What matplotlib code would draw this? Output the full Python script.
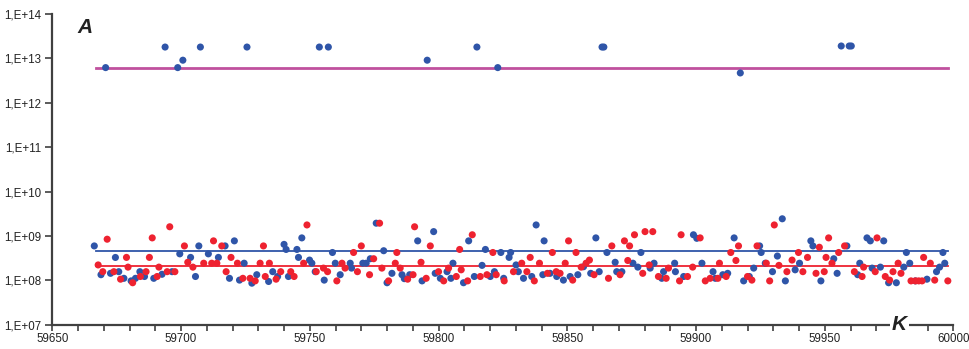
import math
import matplotlib
matplotlib.use("Agg")
import matplotlib.pyplot as plt
from matplotlib.ticker import FixedLocator, MultipleLocator, FuncFormatter

plt.rcParams['font.family'] = ['Liberation Sans', 'DejaVu Sans']

# upper blue group (around 1e13)
blue_top_x = [59670.7, 59693.8, 59698.7, 59700.7, 59707.5, 59725.6, 59753.7, 59757.2,
              59795.6, 59814.9, 59823.0, 59863.5, 59864.2, 59917.2, 59956.4, 59959.5, 59960.3]
blue_top_y = [6.2e12, 1.8e13, 6.2e12, 9.1e12, 1.8e13, 1.8e13, 1.8e13, 1.8e13,
              9.1e12, 1.8e13, 6.2e12, 1.8e13, 1.8e13, 4.7e12, 1.9e13, 1.9e13, 1.9e13]

# lower blue group
blue_x = [59666.3, 59674.5, 59668.9, 59672.6, 59675.8, 59677.8, 59680.6, 59682.3, 59684.0, 59685.8,
          59689.4, 59692.6, 59696.5, 59699.5, 59703.7, 59706.9, 59705.6,
          59710.6, 59714.5, 59717.1, 59720.7, 59718.8, 59722.7, 59724.5, 59727.5, 59729.4, 59734.0,
          59735.6, 59737.5, 59740.0, 59740.8, 59741.7, 59745.0, 59745.6, 59746.9, 59749.9, 59750.8,
          59752.1, 59755.6, 59758.8, 59759.9, 59761.8, 59765.7,
          59766.2, 59770.6, 59771.9, 59773.5, 59775.8, 59778.7, 59781.9, 59780.0, 59785.8, 59786.7,
          59788.8, 59791.9, 59793.6, 59798.1, 59798.7, 59800.7, 59803.3, 59804.8, 59805.6, 59809.7,
          59811.7, 59813.9, 59816.9, 59818.2, 59820.1, 59821.7, 59824.2, 59825.3,
          59827.4, 59828.0, 59830.1, 59831.0, 59833.0, 59836.2, 59837.9, 59840.5, 59841.0, 59843.3,
          59845.9, 59848.5, 59851.1, 59854.1, 59856.3, 59859.1, 59861.1, 59862.4, 59865.4, 59868.6,
          59869.2, 59871.2, 59875.5, 59877.4, 59878.6, 59883.7,
          59882.2, 59887.4, 59886.7, 59891.7, 59892.0, 59895.2, 59899.0, 59900.3, 59902.3, 59906.6,
          59907.5, 59910.4, 59912.3, 59914.8, 59918.5, 59920.7, 59922.4, 59924.7, 59925.3, 59926.9,
          59929.7, 59931.6, 59933.5, 59934.7, 59938.5, 59940.2,
          59944.6, 59945.4, 59948.5, 59953.5, 59954.8, 59958.6, 59962.8, 59963.6, 59966.4, 59967.7,
          59968.4, 59971.6, 59972.9, 59974.8, 59977.8, 59980.7, 59981.7, 59983.0, 59985.2, 59989.7,
          59993.4, 59994.6, 59995.9, 59996.6]
blue_y = [6.0e8, 3.3e8, 1.35e8, 1.45e8, 1.58e8, 1.12e8, 9.8e7, 1.12e8, 1.58e8, 1.23e8,
          1.12e8, 1.38e8, 1.58e8, 3.98e8, 3.31e8, 6.0e8, 1.23e8,
          3.98e8, 3.31e8, 6.0e8, 7.8e8, 1.12e8, 1.02e8, 2.45e8, 8.7e7, 1.35e8, 9.5e7,
          1.58e8, 1.23e8, 6.5e8, 5.0e8, 1.23e8, 5.0e8, 3.31e8, 9.1e8, 2.88e8, 2.45e8,
          1.58e8, 1.02e8, 4.27e8, 2.45e8, 1.35e8, 2.45e8,
          1.9e8, 2.45e8, 2.45e8, 3.09e8, 1.95e9, 4.68e8, 1.45e8, 8.9e7, 1.35e8, 1.1e8,
          1.35e8, 7.8e8, 9.8e7, 1.26e9, 1.45e8, 1.12e8, 1.58e8, 1.12e8, 2.45e8, 8.9e7,
          7.8e8, 1.23e8, 2.19e8, 5.0e8, 1.23e8, 1.58e8, 4.27e8, 1.12e8,
          3.31e8, 4.27e8, 2.24e8, 1.58e8, 1.12e8, 1.23e8, 1.78e9, 1.35e8, 7.8e8, 1.45e8,
          1.23e8, 1.02e8, 1.23e8, 1.35e8, 2.04e8, 1.45e8, 9.1e8, 1.58e8, 4.27e8, 2.57e8,
          1.58e8, 1.58e8, 2.45e8, 2.0e8, 4.27e8, 2.45e8,
          1.9e8, 1.58e8, 1.12e8, 2.45e8, 1.58e8, 1.23e8, 1.07e9, 8.9e8, 2.45e8, 1.58e8,
          1.12e8, 1.35e8, 1.45e8, 9.1e8, 9.8e7, 1.23e8, 1.9e8, 6.0e8, 4.27e8, 2.45e8,
          1.58e8, 3.55e8, 2.45e9, 9.8e7, 1.74e8, 2.45e8,
          7.8e8, 6.0e8, 9.8e7, 3.09e8, 1.45e8, 6.0e8, 1.35e8, 2.45e8, 9.1e8, 7.8e8,
          1.9e8, 2.0e8, 7.8e8, 8.9e7, 8.9e7, 2.0e8, 4.27e8, 2.45e8, 9.8e7, 1.07e8,
          1.58e8, 2.0e8, 4.27e8, 2.45e8]

red_x = [59671.3, 59667.8, 59669.6, 59673.9, 59676.5, 59678.8, 59679.4, 59681.2, 59684.2, 59686.4,
         59687.7, 59688.8, 59690.7, 59691.4, 59694.6, 59695.6, 59697.6, 59701.3, 59702.6, 59704.6,
         59708.8,
         59712.6, 59711.9, 59713.9, 59715.8, 59717.5, 59719.4, 59721.9, 59724.0, 59726.8, 59728.8,
         59730.7, 59732.0, 59732.7, 59734.3, 59736.9, 59738.7, 59742.6, 59743.9, 59747.6, 59748.9,
         59752.5, 59755.3, 59756.9, 59760.5, 59762.5, 59763.7, 59767.0,
         59768.5, 59770.0, 59773.2, 59774.8, 59777.1, 59778.0, 59780.6, 59783.2, 59783.8, 59785.1,
         59788.0, 59790.1, 59790.7, 59793.2, 59795.2, 59796.8, 59800.0, 59802.0, 59803.9, 59806.9,
         59808.8, 59808.2, 59811.3, 59813.1, 59816.2, 59818.8, 59821.1, 59822.4, 59825.5,
         59829.1, 59832.3, 59834.3, 59835.6, 59837.2, 59839.2, 59842.3, 59844.2, 59845.7, 59847.2,
         59849.2, 59850.5, 59852.1, 59853.4, 59855.4, 59857.3, 59858.6, 59860.4, 59866.0, 59867.3,
         59870.5, 59872.2, 59873.5, 59874.2, 59876.1, 59879.3, 59880.2, 59881.8, 59883.2,
         59885.4, 59888.4, 59889.3, 59893.6, 59894.2, 59896.7, 59898.7, 59901.6, 59903.6, 59905.5,
         59908.5, 59909.1, 59911.7, 59913.5, 59915.5, 59916.5, 59920.0, 59921.7, 59923.7, 59927.3,
         59928.6, 59930.4, 59932.2, 59935.3, 59937.3, 59939.8, 59941.5,
         59943.3, 59946.6, 59947.9, 59949.8, 59950.5, 59951.5, 59952.8, 59955.4, 59957.7, 59961.5,
         59964.5, 59965.1, 59969.6, 59970.3, 59973.5, 59975.2, 59976.5, 59978.5, 59979.6, 59983.5,
         59985.2, 59986.5, 59987.8, 59988.4, 59991.0, 59992.7, 59997.8]
red_y = [8.5e8, 2.24e8, 1.58e8, 1.58e8, 1.07e8, 3.31e8, 2.0e8, 8.9e7, 1.23e8, 1.58e8,
         3.31e8, 9.1e8, 1.23e8, 2.0e8, 1.58e8, 1.62e9, 1.58e8, 6.0e8, 2.57e8, 2.0e8,
         2.45e8,
         7.8e8, 2.45e8, 2.45e8, 6.0e8, 1.58e8, 3.31e8, 2.45e8, 1.12e8, 1.12e8, 9.8e7,
         2.45e8, 6.0e8, 1.23e8, 2.45e8, 1.07e8, 1.58e8, 1.58e8, 1.23e8, 2.45e8, 1.78e9,
         1.58e8, 1.9e8, 1.58e8, 9.8e7, 2.45e8, 1.9e8, 4.27e8,
         1.58e8, 6.0e8, 1.35e8, 3.09e8, 1.95e9, 1.9e8, 9.8e7, 2.45e8, 4.27e8, 1.9e8,
         1.07e8, 1.35e8, 1.62e9, 2.57e8, 1.12e8, 6.0e8, 1.58e8, 9.8e7, 1.9e8, 1.23e8,
         1.74e8, 5.0e8, 9.8e7, 1.07e9, 1.23e8, 1.35e8, 4.27e8, 1.35e8, 9.8e7,
         1.58e8, 2.45e8, 1.58e8, 3.31e8, 9.8e7, 2.45e8, 1.45e8, 4.27e8, 1.58e8, 1.45e8,
         2.45e8, 7.8e8, 1.02e8, 4.27e8, 2.0e8, 2.45e8, 2.88e8, 1.35e8, 1.12e8, 6.0e8,
         1.35e8, 7.8e8, 2.82e8, 6.0e8, 1.07e9, 1.45e8, 1.26e9, 2.24e8, 1.26e9,
         1.23e8, 1.12e8, 1.9e8, 9.8e7, 1.07e9, 1.23e8, 2.0e8, 9.1e8, 9.8e7, 1.12e8,
         1.12e8, 2.45e8, 1.23e8, 4.27e8, 2.82e8, 6.0e8, 1.23e8, 1.02e8, 6.0e8, 2.45e8,
         9.8e7, 1.78e9, 2.19e8, 1.58e8, 2.88e8, 4.27e8, 1.58e8,
         3.31e8, 1.45e8, 5.6e8, 1.58e8, 3.31e8, 9.1e8, 2.45e8, 4.27e8, 6.0e8, 1.58e8,
         1.23e8, 2.0e8, 1.58e8, 9.1e8, 1.23e8, 1.02e8, 1.58e8, 2.45e8, 1.45e8, 9.8e7,
         9.8e7, 9.8e7, 9.8e7, 3.31e8, 2.45e8, 1.02e8, 9.8e7]

# reference levels
line_x = [59667, 59998]
magenta_level = 6.2e12
blue_level = 4.6e8
red_level = 2.15e8

yticks = [1e7, 1e8, 1e9, 1e10, 1e11, 1e12, 1e13, 1e14]

blue = '#2f55a8'
red = '#ee2230'
magenta = '#c0509e'
axcol = '#404040'

fig = plt.figure(figsize=(9.69, 3.49), dpi=100)
ax = fig.add_axes([0.054, 0.069, 0.93, 0.891])

ax.plot(line_x, [magenta_level] * 2, color=magenta, lw=2.0, zorder=2)
ax.plot(line_x, [blue_level] * 2, color=blue, lw=1.3, zorder=2)
ax.plot(line_x, [red_level] * 2, color=red, lw=1.3, zorder=2)

ax.scatter(blue_top_x, blue_top_y, s=26, color=blue, edgecolors='none', zorder=3)
ax.scatter(blue_x, blue_y, s=26, color=blue, edgecolors='none', zorder=3)
ax.scatter(red_x, red_y, s=26, color=red, edgecolors='none', zorder=4)

ax.set_yscale('log')
ax.set_ylim(1e7, 1e14)
ax.set_xlim(59650, 60000)
ax.yaxis.set_major_locator(FixedLocator(yticks))
ax.yaxis.set_minor_locator(FixedLocator([]))
ax.yaxis.set_major_formatter(FuncFormatter(lambda v, p: '1,E+%02d' % round(math.log10(v))))
ax.xaxis.set_major_locator(MultipleLocator(50))
ax.xaxis.set_minor_locator(MultipleLocator(10))

for s in ['top', 'right']:
    ax.spines[s].set_visible(False)
for s in ['left', 'bottom']:
    ax.spines[s].set_color(axcol)
    ax.spines[s].set_linewidth(1.6)

ax.tick_params(axis='both', which='both', color=axcol, width=1.2, labelsize=8.3,
               labelcolor='#222222')
ax.tick_params(axis='x', which='major', length=4, pad=2)
ax.tick_params(axis='x', which='minor', length=4)
ax.tick_params(axis='y', which='major', length=5, pad=3)

ax.text(0.028, 0.955, 'A', transform=ax.transAxes, fontsize=15, fontweight='bold',
        fontstyle='italic', ha='left', va='center', color='#222222')
ax.text(0.94, 0.0, 'K', transform=ax.transAxes, fontsize=15, fontweight='bold',
        fontstyle='italic', ha='center', va='center', color='#222222', zorder=10,
        bbox=dict(facecolor='white', edgecolor='none', pad=1.5), clip_on=False)

fig.savefig('out.png', dpi=100)
